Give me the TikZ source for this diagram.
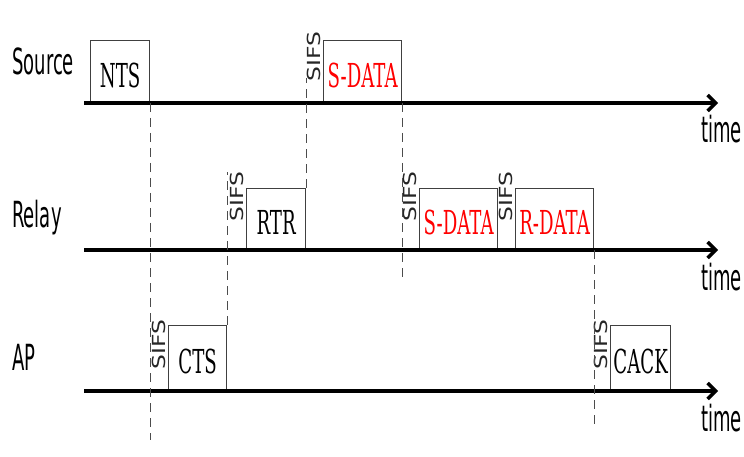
\documentclass[tikz,border=0pt]{standalone}
\usepackage{fontspec}
\setmainfont{DejaVu Serif}
\newfontfamily\lblfont{DejaVu Sans}[FakeStretch=0.5]
\newfontfamily\boxfont{DejaVu Serif}[FakeStretch=0.55]
\newfontfamily\sifsfont{DejaVu Sans}[FakeStretch=1.3]
\usetikzlibrary{arrows.meta}

\begin{document}
\begin{tikzpicture}[x=1pt,y=-1pt,
    timeline/.style={line width=3.5pt,-{Straight Barb[length=8pt,width=16pt]}},
    frame/.style={draw=black!75,line width=1.2pt,anchor=south west,inner sep=0pt,
        text height=32pt,text depth=0pt,font=\boxfont\fontsize{33}{33}\selectfont},
    sifs/.style={rotate=90,inner sep=0pt,text=black!85,font=\sifsfont\fontsize{18}{18}\selectfont},
    gap/.style={draw=black!70,line width=1pt,dash pattern=on 9pt off 6pt},
    station/.style={anchor=base west,inner sep=0pt,font=\lblfont\fontsize{36}{36}\selectfont},
    axis/.style={anchor=base east,inner sep=0pt,font=\lblfont\fontsize{36}{36}\selectfont}]
    \useasboundingbox (0,0) rectangle (744,457);
    % stations
    \foreach \row/\name/\y/\base in {src/Source/103/75,rel/Relay/250/228,ap/AP/391/370} {
        \node[station] (\row-label) at (12,\base) {\name};
        \coordinate (\row-start) at (84,\y);
        \coordinate (\row-end) at (718,\y);
        \node[axis] (\row-time) at (742,\y+40) {time};
    }
    % frames on the air
    \foreach \id/\txt/\col/\x/\w/\y/\h in {nts/NTS/black/90/59/103/62,cts/CTS/black/168/58/391/65,
        rtr/RTR/black/246/59/250/61,sdata/S-DATA/red/323/78/103/62,fwd/S-DATA/red/419/78/250/61,
        rdata/R-DATA/red/515/78/250/61,cack/CACK/black/610/60/391/65} {
        \node[frame,text=\col,minimum width=\w*1pt,minimum height=\h*1pt] (\id) at (\x,\y) {\txt};
    }
    \foreach \id/\dy in {cts/20,rtr/9,sdata/17,fwd/9,rdata/9,cack/20} {
        \node[sifs] (\id-sifs) at ([xshift=-9.5pt,yshift=-\dy*1pt]\id.north west) {SIFS};
    }
    % time axes
    \foreach \row in {src,rel,ap} {
        \draw[timeline] (\row-start) -- (\row-end);
    }
    % sifs borders
    \coordinate (nts-drop) at (nts.south east |- 0,440);
    \coordinate (cts-rise) at (cts.north east |- 0,172);
    \coordinate (rtr-rise) at (rtr.north east |- 0,78);
    \coordinate (sdata-drop) at (sdata.south east |- 0,277);
    \coordinate (rdata-drop) at (rdata.south east |- 0,425);
    \draw[gap] (nts.south east) -- (nts-drop);
    \draw[gap] (cts.north east) -- (cts-rise);
    \draw[gap] (rtr.north east) -- (rtr-rise);
    \draw[gap] (sdata.south east) -- (sdata-drop);
    \draw[gap] (rdata.south east) -- (rdata-drop);
\end{tikzpicture}
\end{document}
